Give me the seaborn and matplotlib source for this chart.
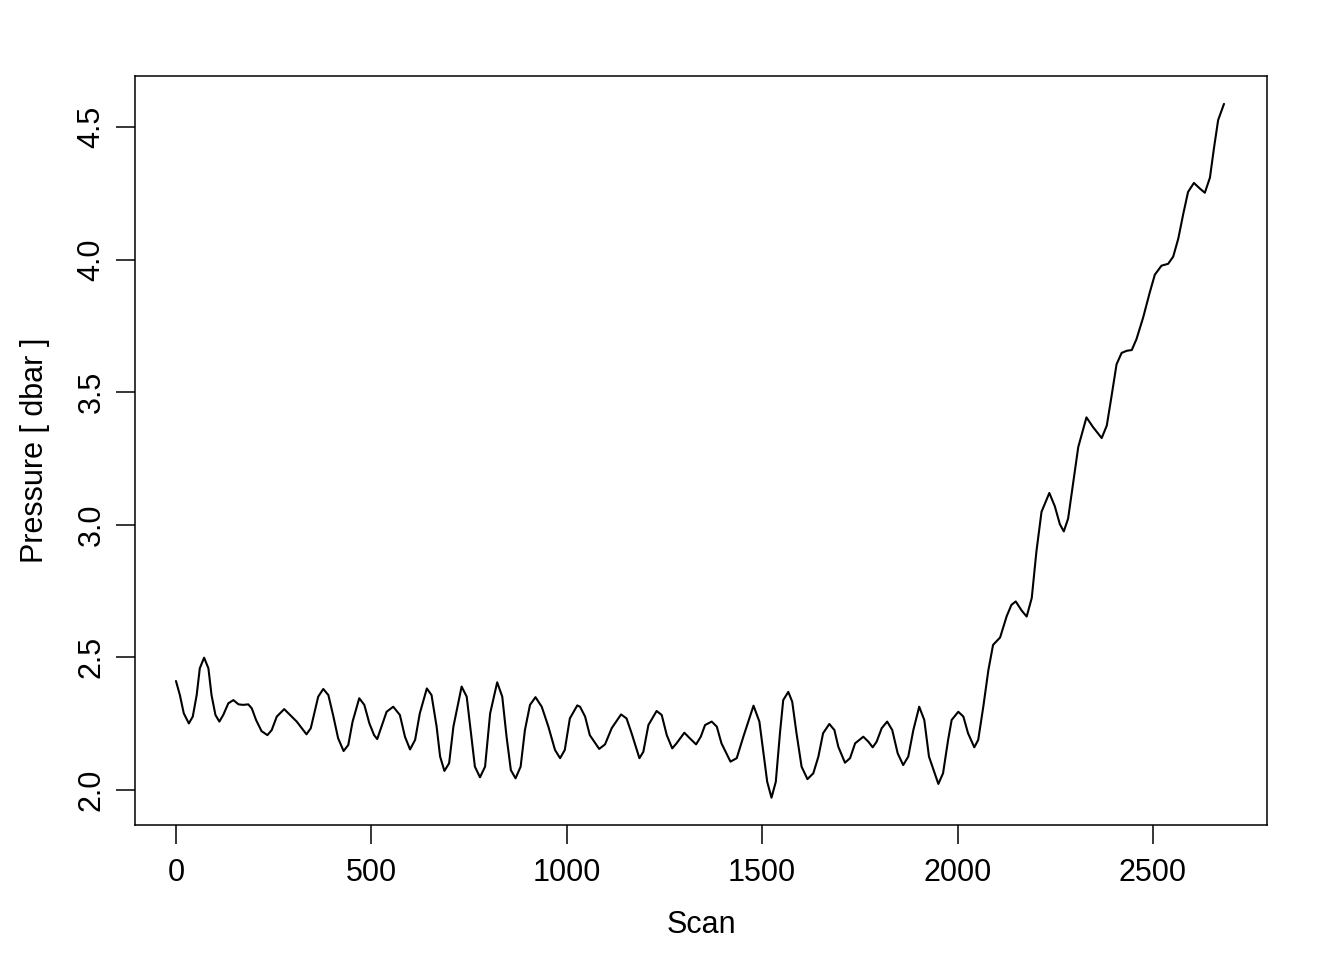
import matplotlib
matplotlib.use("Agg")
import matplotlib.pyplot as plt
import seaborn as sns

# pressure trace, point by point
scan = [0, 10, 20, 33, 43, 53, 61, 72, 83, 91, 101, 111, 121, 134, 147, 160,
        172, 185, 194, 205, 219, 234, 245, 258, 277, 292, 309, 322, 334, 345,
        356, 364, 377, 390, 402, 415, 429, 441, 452, 469, 482, 495, 507, 515,
        526, 539, 556, 573, 586, 599, 612, 624, 642, 654, 667, 676, 687, 699,
        710, 731, 744, 755, 765, 778, 791, 804, 822, 835, 846, 857, 869, 882,
        893, 906, 920, 936, 953, 970, 983, 995, 1008, 1027,
        1034, 1047, 1059, 1083, 1098, 1115, 1139, 1153, 1166, 1186, 1196,
        1209, 1230, 1243, 1256, 1270, 1281, 1301, 1315, 1331, 1343, 1354,
        1371, 1384, 1396, 1419, 1435, 1452, 1478, 1493, 1503, 1513, 1524,
        1535, 1546, 1554, 1567,
        1577, 1588, 1601, 1616, 1631, 1644, 1656, 1672, 1685, 1695, 1712,
        1725, 1738, 1759, 1772, 1783, 1793, 1806, 1820, 1833, 1847, 1861,
        1874, 1887, 1902, 1915, 1927, 1951, 1963, 1976, 1985, 2002, 2015,
        2027, 2043, 2053, 2066, 2079, 2091,
        2096, 2109, 2126, 2138, 2149, 2164, 2177, 2190, 2202, 2215, 2235,
        2249, 2262, 2272, 2283, 2296, 2309, 2330, 2347, 2369, 2382, 2394,
        2407, 2420, 2433, 2446, 2458, 2475, 2492, 2505, 2522, 2539, 2552,
        2565, 2578, 2590, 2605, 2620, 2633, 2646, 2656, 2667, 2682]
pressure = [2.411, 2.358, 2.289, 2.251, 2.277, 2.358, 2.459, 2.499, 2.459,
            2.358, 2.283, 2.258, 2.283, 2.327, 2.339, 2.323, 2.321, 2.323,
            2.308, 2.264, 2.222, 2.207, 2.226, 2.277, 2.305, 2.283, 2.258,
            2.233, 2.210, 2.233, 2.302, 2.352, 2.381, 2.358, 2.283, 2.195,
            2.147, 2.170, 2.258, 2.346, 2.321, 2.251, 2.207, 2.192,
            2.239, 2.295, 2.314, 2.283, 2.201, 2.153, 2.189, 2.289, 2.383,
            2.358, 2.239, 2.126, 2.072, 2.101, 2.239, 2.390, 2.352, 2.214,
            2.088, 2.048, 2.088, 2.289, 2.406, 2.352, 2.201, 2.075, 2.044,
            2.088, 2.226, 2.321, 2.350, 2.314, 2.239, 2.151, 2.120, 2.151,
            2.270, 2.319,
            2.314, 2.277, 2.207, 2.155, 2.172, 2.233, 2.285, 2.270, 2.214,
            2.120, 2.144, 2.245, 2.298, 2.283, 2.207, 2.157, 2.176, 2.216,
            2.195, 2.172, 2.201, 2.245, 2.258, 2.239, 2.176, 2.107, 2.120,
            2.201, 2.318, 2.258, 2.144, 2.031, 1.971, 2.031, 2.220, 2.339,
            2.370,
            2.333, 2.214, 2.088, 2.041, 2.063, 2.126, 2.214, 2.249, 2.226,
            2.163, 2.103, 2.120, 2.176, 2.201, 2.182, 2.161, 2.182, 2.233,
            2.258, 2.226, 2.138, 2.094, 2.126, 2.226, 2.314, 2.264, 2.126,
            2.023, 2.063, 2.189, 2.264, 2.295, 2.277, 2.214, 2.161, 2.189,
            2.314, 2.452, 2.547,
            2.555, 2.575, 2.656, 2.698, 2.711, 2.677, 2.654, 2.724, 2.900,
            3.049, 3.120, 3.070, 3.002, 2.975, 3.023, 3.158, 3.293, 3.405,
            3.368, 3.327, 3.374, 3.483, 3.605, 3.648, 3.656, 3.659, 3.700,
            3.781, 3.876, 3.943, 3.977, 3.984, 4.011, 4.079, 4.174, 4.255,
            4.289, 4.268, 4.252, 4.309, 4.417, 4.526, 4.587]

x_ticks = [0, 500, 1000, 1500, 2000, 2500]
y_ticks = [2.0, 2.5, 3.0, 3.5, 4.0, 4.5]

sns.set_style("ticks")
plt.rcParams["font.family"] = ["Liberation Sans", "DejaVu Sans"]

fig = plt.figure(figsize=(13.44, 9.6), dpi=100)
ax = fig.add_axes([0.1004, 0.1406, 0.8423, 0.7802])

sns.lineplot(x=scan, y=pressure, color="black", lw=1.5, ax=ax,
             solid_joinstyle="round")

ax.set_xlim(-105, 2792)
ax.set_ylim(1.868, 4.692)
ax.set_xticks(x_ticks)
ax.set_yticks(y_ticks)
ax.set_yticklabels([f"{v:.1f}" for v in y_ticks])
for t in ax.get_yticklabels():
    t.set_rotation(90)
    t.set_va("center")

for s in ax.spines.values():
    s.set_color("black")
    s.set_linewidth(1.1)

ax.tick_params(axis="both", length=13.5, width=1.1, color="black",
               labelsize=22, labelcolor="black", direction="out")
ax.tick_params(axis="x", pad=10)
ax.tick_params(axis="y", pad=7)

ax.set_xlabel("Scan", fontsize=22, color="black")
ax.set_ylabel("Pressure [ dbar ]", fontsize=22, color="black")
ax.xaxis.set_label_coords(0.5, -0.113)
ax.yaxis.set_label_coords(-0.075, 0.5)

fig.savefig("out.png", dpi=100, facecolor="white")
